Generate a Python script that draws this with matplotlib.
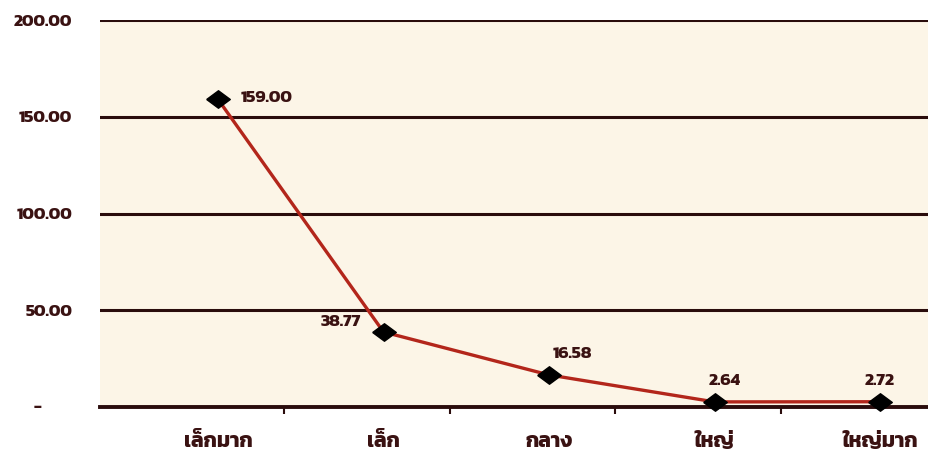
import matplotlib
matplotlib.use("Agg")
import matplotlib.pyplot as plt
from matplotlib.transforms import ScaledTranslation

categories = ["เล็กมาก", "เล็ก", "กลาง", "ใหญ่", "ใหญ่มาก"]
values = [159.00, 38.77, 16.58, 2.64, 2.72]
value_labels = ["159.00", "38.77", "16.58", "2.64", "2.72"]
y_ticks = [0, 50, 100, 150, 200]
y_tick_labels = ["-", "50.00", "100.00", "150.00", "200.00"]

plt.rcParams["font.family"] = ["Kanit", "DejaVu Sans"]

text_col = "#3a1212"
grid_col = "#2a0c0c"
line_col = "#b3261b"

fig = plt.figure(figsize=(9.29, 4.62), dpi=100)
ax = fig.add_axes([100 / 929, 55 / 462, 829 / 929, 387 / 462])
ax.set_facecolor("#fcf5e7")

# flattened diamond marker
diamond = [(-1.35, 0), (0, 1), (1.35, 0), (0, -1), (-1.35, 0)]

x = list(range(len(categories)))
ax.plot(x, values, color=line_col, lw=2.4, zorder=3, clip_on=False)
ax.plot(x, values, ls="none", marker=diamond, ms=17, color="black", zorder=4, clip_on=False)

# data labels, nudged around each marker
offsets = [(16, 1), (-31, 7), (17, 15), (7, 15), (0, 15)]
aligns = ["left", "center", "center", "center", "center"]
for xi, v, lab, off, ha in zip(x, values, value_labels, offsets, aligns):
    ax.annotate(lab, (xi, v), xytext=off, textcoords="offset points",
                ha=ha, va="center", fontsize=12.5, fontweight="bold", color=text_col)

ax.set_ylim(0, 200)
ax.set_xlim(-0.713, 4.296)
ax.set_yticks(y_ticks)
ax.set_yticklabels(y_tick_labels, fontsize=12.5, fontweight="bold", color=text_col)
ax.tick_params(axis="y", length=0, pad=20)
zero_lab = ax.get_yticklabels()[0]
zero_lab.set_transform(zero_lab.get_transform() + ScaledTranslation(-31 / 100, 0, fig.dpi_scale_trans))
ax.yaxis.grid(True, color=grid_col, lw=2.2)
ax.set_axisbelow(True)

ax.set_xticks([i + 0.4 for i in range(4)])
ax.set_xticklabels([])
ax.tick_params(axis="x", length=5, width=1.5, color=grid_col)
for xi, cat in zip(x, categories):
    ax.text(xi, -0.09, cat, transform=ax.get_xaxis_transform(), ha="center",
            va="center", fontsize=15, fontweight="bold", color=text_col)

for s in ["top", "left", "right"]:
    ax.spines[s].set_visible(False)
ax.spines["bottom"].set_color(grid_col)
ax.spines["bottom"].set_linewidth(2.8)

fig.savefig("out.png", dpi=100, facecolor="white")
